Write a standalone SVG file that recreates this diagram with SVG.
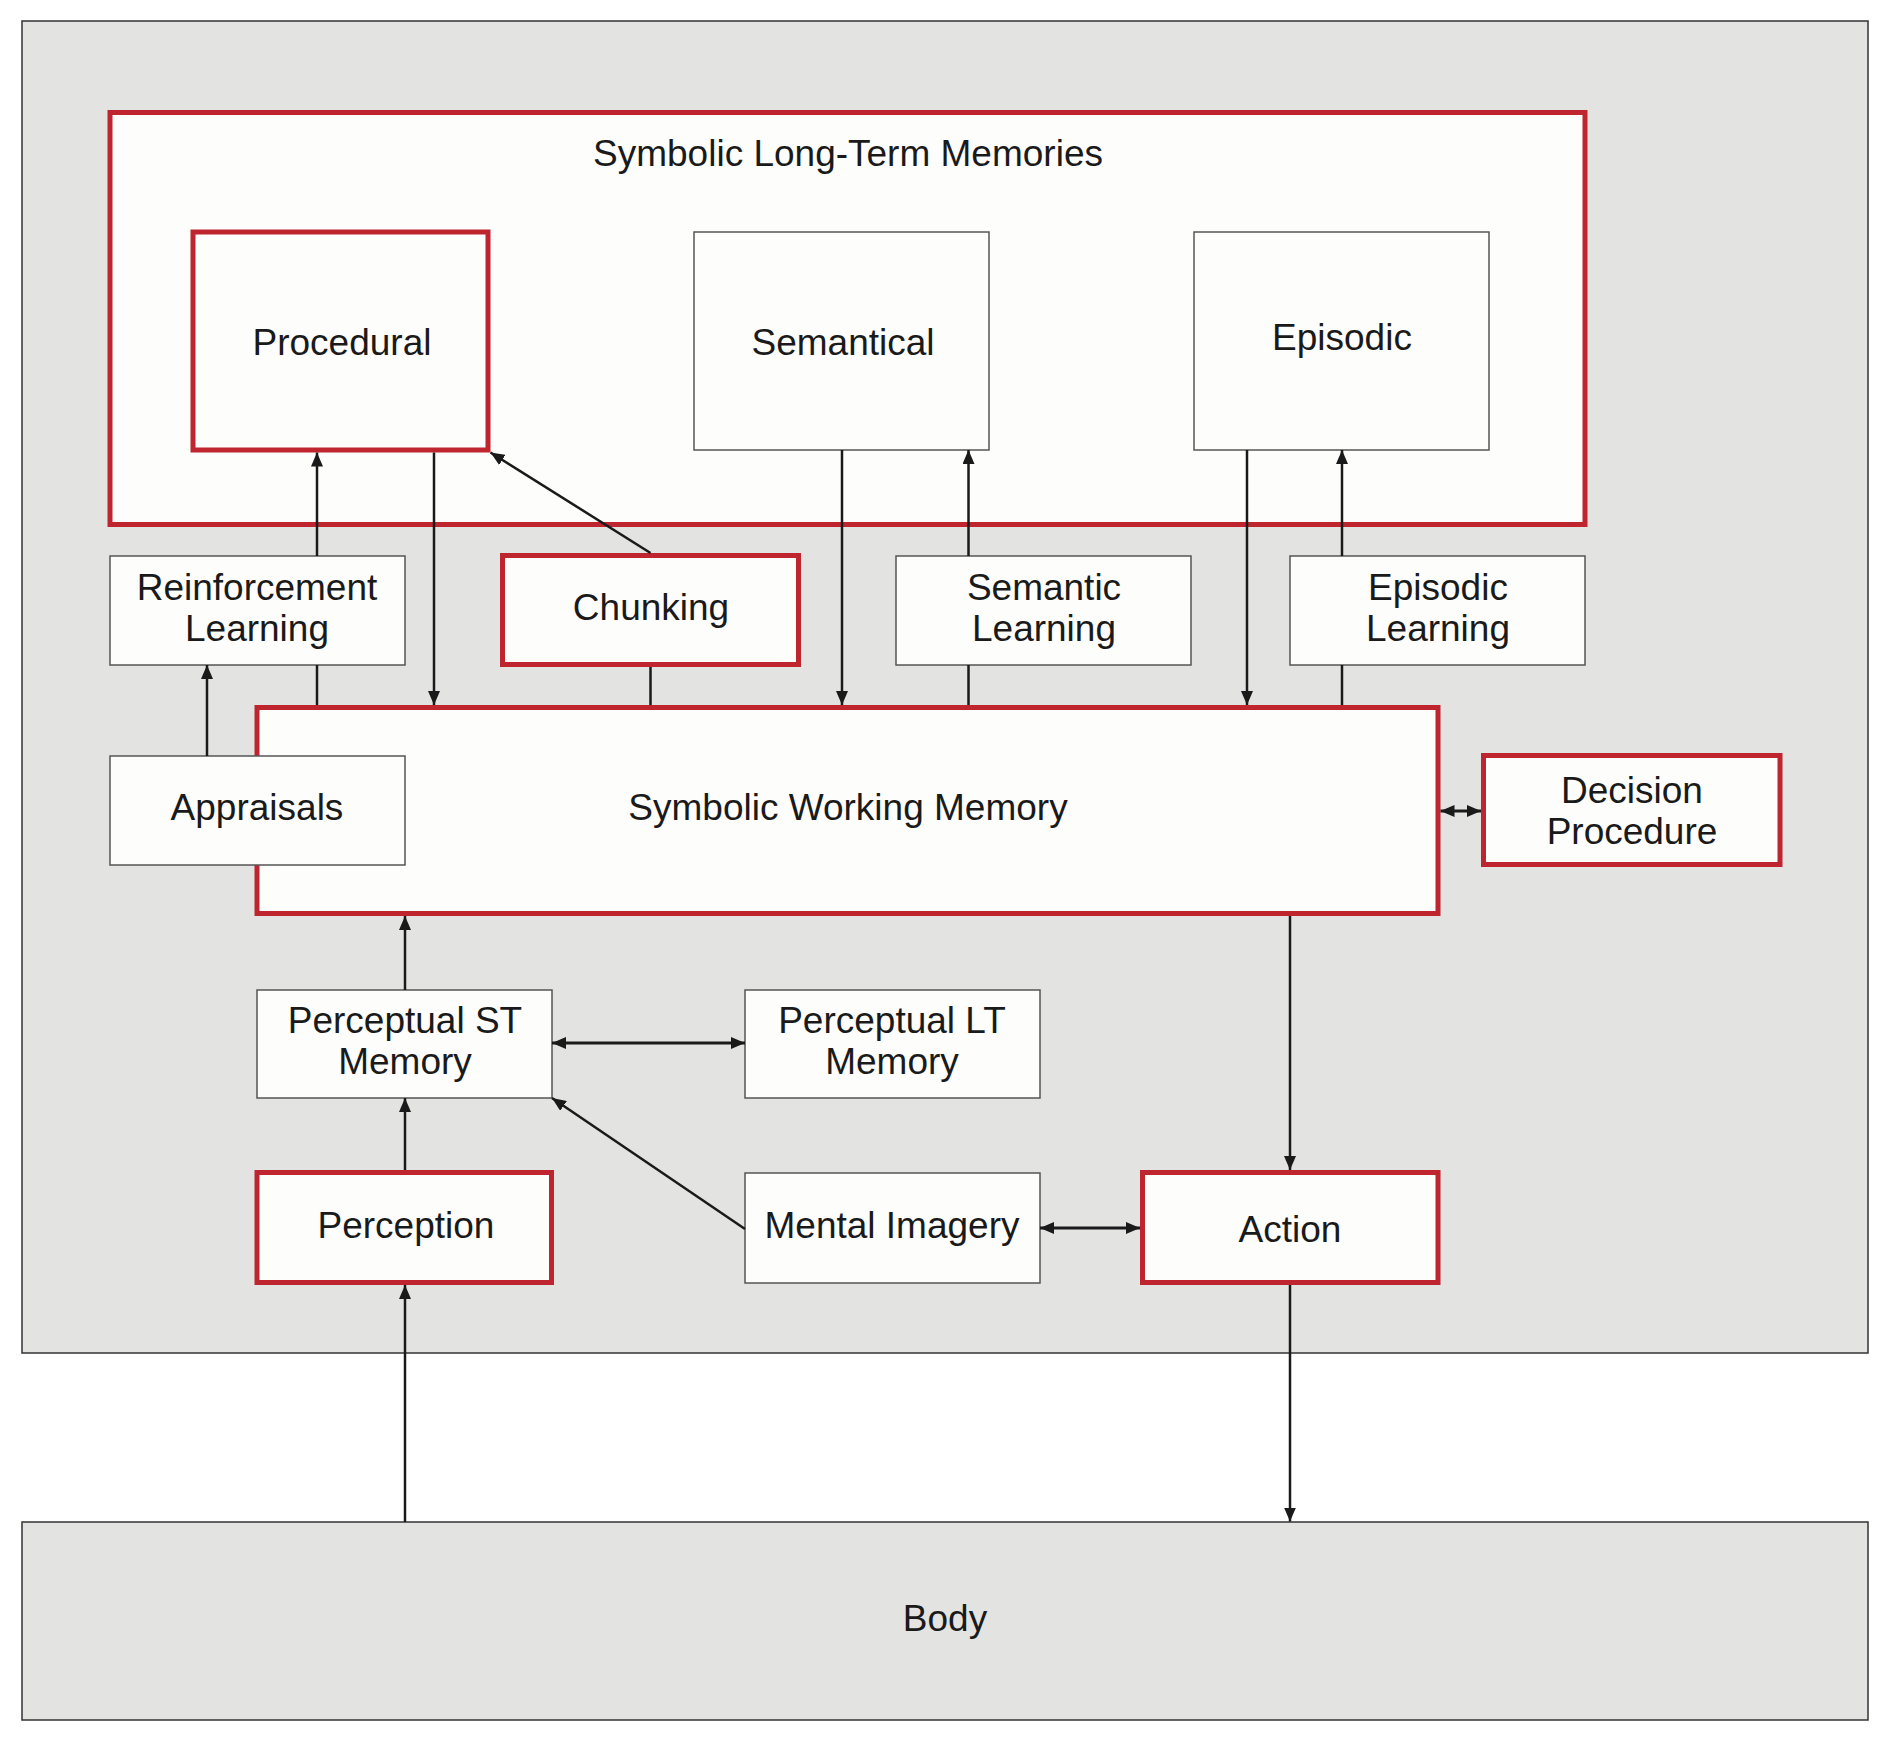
<svg xmlns="http://www.w3.org/2000/svg" width="1889" height="1742" viewBox="0 0 1889 1742">
<defs>
<marker id="ah" viewBox="0 0 14 12" markerWidth="14" markerHeight="12" refX="14" refY="6" orient="auto-start-reverse" markerUnits="userSpaceOnUse">
<path d="M0,0 L14,6 L0,12 z" fill="#1a1a1a"/>
</marker>
<style>
.bg{fill:#e3e3e2;stroke:#333;stroke-width:1.5}
.red{fill:#fdfdfc;stroke:#be252f;stroke-width:5}
.thin{fill:#fdfdfc;stroke:#555;stroke-width:1.5}
text{font-family:"Liberation Sans",Arial,sans-serif;font-size:37px;fill:#1a1a1a;text-anchor:middle}
.c line{stroke:#1a1a1a;stroke-width:2.5;fill:none}
.a{marker-end:url(#ah)}
.d{marker-start:url(#ah);marker-end:url(#ah)}
</style>
</defs>
<rect width="1889" height="1742" fill="#ffffff"/>
<g id="cognition"><rect class="bg" x="22" y="21" width="1846" height="1332"/></g>
<g id="body"><rect class="bg" x="22" y="1522" width="1846" height="198"/><text x="945" y="1631">Body</text></g>
<g id="ltm"><rect class="red" x="110" y="112.5" width="1475" height="412"/><text x="848" y="166">Symbolic Long-Term Memories</text></g>
<g id="procedural"><rect class="red" x="193" y="232" width="295" height="218"/><text x="342" y="355">Procedural</text></g>
<g id="semantical"><rect class="thin" x="694" y="232" width="295" height="218"/><text x="843" y="355">Semantical</text></g>
<g id="episodic"><rect class="thin" x="1194" y="232" width="295" height="218"/><text x="1342" y="350">Episodic</text></g>
<g id="rl"><rect class="thin" x="110" y="556" width="295" height="109"/><text x="257" y="600">Reinforcement</text><text x="257" y="641">Learning</text></g>
<g id="chunking"><rect class="red" x="502.5" y="555.5" width="296" height="109"/><text x="651" y="620">Chunking</text></g>
<g id="semlearn"><rect class="thin" x="896" y="556" width="295" height="109"/><text x="1044" y="600">Semantic</text><text x="1044" y="641">Learning</text></g>
<g id="epilearn"><rect class="thin" x="1290" y="556" width="295" height="109"/><text x="1438" y="600">Episodic</text><text x="1438" y="641">Learning</text></g>
<g id="swm"><rect class="red" x="257" y="707.5" width="1181" height="206"/><text x="848" y="820">Symbolic Working Memory</text></g>
<g id="appraisals"><rect class="thin" x="110" y="756" width="295" height="109"/><text x="257" y="820">Appraisals</text></g>
<g id="decision"><rect class="red" x="1483.5" y="755.5" width="296.5" height="109"/><text x="1632" y="803">Decision</text><text x="1632" y="844">Procedure</text></g>
<g id="pstm"><rect class="thin" x="257" y="990" width="295" height="108"/><text x="405" y="1033">Perceptual ST</text><text x="405" y="1074">Memory</text></g>
<g id="pltm"><rect class="thin" x="745" y="990" width="295" height="108"/><text x="892" y="1033">Perceptual LT</text><text x="892" y="1074">Memory</text></g>
<g id="perception"><rect class="red" x="257" y="1172.5" width="294.5" height="110"/><text x="406" y="1238">Perception</text></g>
<g id="imagery"><rect class="thin" x="745" y="1173" width="295" height="110"/><text x="892" y="1238">Mental Imagery</text></g>
<g id="action"><rect class="red" x="1142.5" y="1172.5" width="295.5" height="110"/><text x="1290" y="1242">Action</text></g>
<g id="connectors" class="c">
<line class="a" x1="317" y1="556" x2="317" y2="452.5"/>
<line x1="317" y1="705" x2="317" y2="665"/>
<line class="a" x1="434" y1="452.5" x2="434" y2="705"/>
<line class="a" x1="650.5" y1="553" x2="490.5" y2="452.5"/>
<line x1="650.5" y1="667" x2="650.5" y2="705"/>
<line class="a" x1="842" y1="450" x2="842" y2="705"/>
<line class="a" x1="968.5" y1="556" x2="968.5" y2="450"/>
<line x1="968.5" y1="665" x2="968.5" y2="705"/>
<line class="a" x1="1247" y1="450" x2="1247" y2="705"/>
<line class="a" x1="1342" y1="556" x2="1342" y2="450"/>
<line x1="1342" y1="665" x2="1342" y2="705"/>
<line class="a" x1="207" y1="756" x2="207" y2="665"/>
<line class="d" x1="1440.5" y1="811" x2="1481" y2="811" style="stroke-width:3"/>
<line class="a" x1="405" y1="990" x2="405" y2="916"/>
<line class="d" x1="552" y1="1043" x2="745" y2="1043" style="stroke-width:3"/>
<line class="a" x1="405" y1="1170" x2="405" y2="1098"/>
<line class="a" x1="745" y1="1229" x2="552" y2="1098"/>
<line class="d" x1="1040" y1="1228" x2="1140" y2="1228" style="stroke-width:3"/>
<line class="a" x1="1290" y1="916" x2="1290" y2="1170"/>
<line class="a" x1="405" y1="1522" x2="405" y2="1285"/>
<line class="a" x1="1290" y1="1285" x2="1290" y2="1521.5"/>
</g>
</svg>
